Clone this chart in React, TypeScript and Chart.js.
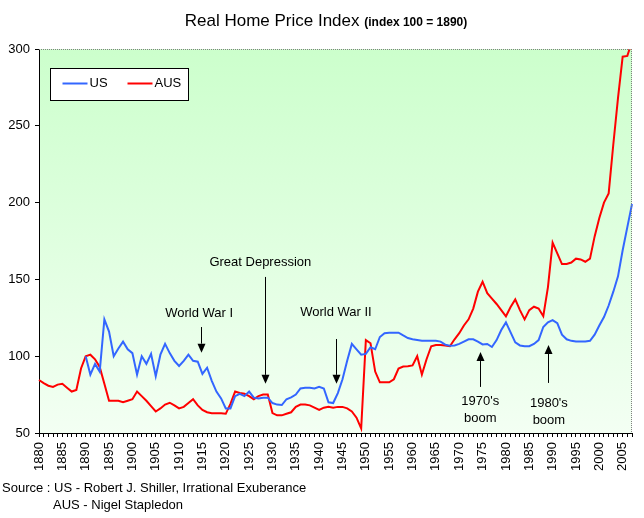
import React, { useEffect, useRef } from "react";
import { Chart, registerables } from "chart.js";

Chart.register(...registerables);

const FIRST_YEAR = 1880;
const LAST_YEAR = 2007;
const YEARS: string[] = [];
for (let y = FIRST_YEAR; y <= LAST_YEAR; y++) YEARS.push(String(y));

const Y_MIN = 50;
const Y_MAX = 300;
const Y_STEP = 50;

// US series starts in 1890 (index 100 = 1890)
const US_START = 1890;
const US_VALUES = [
  100, 88, 95, 90, 124, 116, 100, 105, 109.5, 104.5, // 1890-1899
  102, 88, 100, 95, 101.5, 87, 101, 108, 102, 97, // 1900-1909
  93.6, 97, 101, 97, 96.4, 88.5, 92.5, 84, 77, 72.5, // 1910-1919
  66, 66, 74, 75.5, 74, 77, 73, 72.5, 73, 73, // 1920-1929
  69.5, 68.5, 68.2, 72, 73.2, 75, 79, 79.5, 79.5, 79, // 1930-1939
  80, 79, 70, 69.5, 76, 85, 97, 108, 104.5, 101, // 1940-1949
  101.5, 105.8, 104.5, 112.5, 115, 115.3, 115.3, 115.3, 113.5, 111.8, // 1950-1959
  111, 110.5, 110, 110, 110, 110, 109.5, 107.5, 106.8, 107, // 1960-1969
  108, 109.5, 111, 111, 109.5, 107.7, 108, 106, 110.5, 117, // 1970-1979
  122, 115.5, 109, 107, 106.5, 106.5, 108, 110.5, 119, 122, // 1980-1989
  123.5, 121.5, 114, 111, 110, 109.5, 109.5, 109.5, 110, 114, // 1990-1999
  120, 125.5, 133, 142, 152, 169, 184, 199, // 2000-2007
];

const AUS_VALUES = [
  84.5, 82.5, 80.8, 80, 81.5, 82, 79.5, 77, 78, 92, // 1880-1889
  100, 101, 98, 93, 82, 71, 71, 71, 70, 71, // 1890-1899
  72, 77, 74, 71, 67.5, 64, 66, 68.5, 69.7, 68, // 1900-1909
  66, 67, 69.5, 72, 68, 65, 63.5, 62.8, 62.8, 62.8, // 1910-1919
  62.5, 69, 77, 76, 75.5, 74, 72, 74, 75, 75, // 1920-1929
  63, 61.5, 61.5, 62.5, 63.5, 67, 68.5, 68.5, 68, 66.5, // 1930-1939
  65, 66.5, 67, 66.5, 67, 67, 66, 64, 60, 53, // 1940-1949
  110.5, 108.4, 90, 83, 83, 83, 85, 92, 93.3, 93.5, // 1950-1959
  94, 100, 88, 98, 106.5, 107.3, 107.3, 107, 106.5, 111, // 1960-1969
  115, 120, 124, 131, 142, 148.5, 141, 137.5, 134, 130, // 1970-1979
  126, 132, 137, 130, 124, 130, 132.2, 131, 126, 145, // 1980-1989
  174, 167, 160, 160, 161, 163.5, 163, 161.5, 163.5, 178, // 1990-1999
  190, 200, 206, 238, 268, 295, 295.5, 305, // 2000-2007
];

const US_DATA: (number | null)[] = [
  ...new Array(US_START - FIRST_YEAR).fill(null),
  ...US_VALUES,
];

const SERIES_NAMES = ["US", "AUS"];
const SERIES_COLORS = ["#3366FF", "#FF0000"];

const TITLE_MAIN = "Real Home Price Index";
const TITLE_SUB = "(index 100 = 1890)";
const SOURCE_LINES = [
  "Source : US - Robert J. Shiller, Irrational Exuberance",
  "AUS - Nigel Stapledon",
];

// annotation: text lines placed at (year, value); arrow from value -> to value at arrowYear
const ANNOTATIONS = [
  { lines: ["World War I"], textYear: 1914.3, textValues: [128.1], arrowYear: 1914.7, from: 119, to: 102.3 },
  { lines: ["Great Depression"], textYear: 1927.4, textValues: [161.3], arrowYear: 1928.4, from: 151.6, to: 82 },
  { lines: ["World War II"], textYear: 1943.6, textValues: [128.8], arrowYear: 1943.5, from: 111.2, to: 82 },
  { lines: ["1970's", "boom"], textYear: 1974.5, textValues: [70.8, 59.8], arrowYear: 1974.5, from: 80, to: 102.7 },
  { lines: ["1980's", "boom"], textYear: 1989.2, textValues: [69.5, 58.5], arrowYear: 1989.1, from: 82.6, to: 107.3 },
];

const FONT = "'Liberation Sans', Arial, sans-serif";

const overlayPlugin = {
  id: "overlay",
  beforeDraw(chart: any) {
    const { ctx, chartArea: a } = chart;
    ctx.save();
    const g = ctx.createLinearGradient(0, a.top, 0, a.bottom);
    g.addColorStop(0, "#CCFFCC");
    g.addColorStop(1, "#F3FFF3");
    ctx.fillStyle = g;
    ctx.fillRect(a.left, a.top, a.right - a.left, a.bottom - a.top);
    ctx.restore();
  },
  afterDraw(chart: any) {
    const { ctx, chartArea: a, scales } = chart;
    const xs = scales.x;
    const ys = scales.y;
    const px = (year: number) => xs.getPixelForValue(year - FIRST_YEAR);
    ctx.save();

    // dotted top / right border
    ctx.strokeStyle = "#808080";
    ctx.lineWidth = 1;
    ctx.setLineDash([1, 1]);
    ctx.beginPath();
    ctx.moveTo(a.left, Math.round(a.top) + 0.5);
    ctx.lineTo(a.right, Math.round(a.top) + 0.5);
    ctx.moveTo(Math.round(a.right) - 0.5, a.top);
    ctx.lineTo(Math.round(a.right) - 0.5, a.bottom);
    ctx.stroke();
    ctx.setLineDash([]);

    // annotations
    ctx.fillStyle = "#000";
    ctx.strokeStyle = "#000";
    ctx.font = `13px ${FONT}`;
    ctx.textAlign = "center";
    ctx.textBaseline = "middle";
    for (const an of ANNOTATIONS) {
      an.lines.forEach((line, i) => {
        ctx.fillText(line, px(an.textYear), ys.getPixelForValue(an.textValues[i]));
      });
      const x = Math.round(px(an.arrowYear)) + 0.5;
      const y1 = ys.getPixelForValue(an.from);
      const y2 = ys.getPixelForValue(an.to);
      const dir = y2 > y1 ? 1 : -1;
      const head = 9;
      ctx.lineWidth = 1;
      ctx.beginPath();
      ctx.moveTo(x, y1);
      ctx.lineTo(x, y2 - dir * head);
      ctx.stroke();
      ctx.beginPath();
      ctx.moveTo(x, y2);
      ctx.lineTo(x - 4, y2 - dir * head);
      ctx.lineTo(x + 4, y2 - dir * head);
      ctx.closePath();
      ctx.fill();
    }

    // legend
    const lx = Math.round(a.left) + 11.5;
    const ly = Math.round(a.top) + 19.5;
    ctx.fillStyle = "#FFFFFF";
    ctx.fillRect(lx, ly, 138, 32);
    ctx.strokeStyle = "#000";
    ctx.lineWidth = 1;
    ctx.strokeRect(lx, ly, 138, 32);
    const cy = ly + 15;
    const entries = [
      { x: lx + 12 },
      { x: lx + 77 },
    ];
    ctx.textAlign = "left";
    ctx.textBaseline = "middle";
    ctx.font = `13px ${FONT}`;
    entries.forEach((e, i) => {
      ctx.strokeStyle = SERIES_COLORS[i];
      ctx.lineWidth = 2;
      ctx.beginPath();
      ctx.moveTo(e.x, cy);
      ctx.lineTo(e.x + 25, cy);
      ctx.stroke();
      ctx.fillStyle = "#000";
      ctx.fillText(SERIES_NAMES[i], e.x + 27, cy);
    });

    // title
    ctx.textBaseline = "alphabetic";
    ctx.textAlign = "left";
    ctx.font = `17px ${FONT}`;
    const w1 = ctx.measureText(TITLE_MAIN + " ").width;
    ctx.font = `bold 12px ${FONT}`;
    const w2 = ctx.measureText(TITLE_SUB).width;
    const tx = 326 - (w1 + w2) / 2;
    ctx.font = `17px ${FONT}`;
    ctx.fillText(TITLE_MAIN + " ", tx, 26);
    ctx.font = `bold 12px ${FONT}`;
    ctx.fillText(TITLE_SUB, tx + w1, 26);

    // source
    ctx.font = `13px ${FONT}`;
    ctx.textBaseline = "middle";
    ctx.fillText(SOURCE_LINES[0], 2, 488);
    ctx.fillText(SOURCE_LINES[1], 53, 505);

    ctx.restore();
  },
};

export default function App() {
  const canvasRef = useRef<HTMLCanvasElement | null>(null);

  useEffect(() => {
    document.body.style.margin = "0";
    const canvas = canvasRef.current;
    if (!canvas) return;
    const chart = new Chart(canvas, {
      type: "line",
      data: {
        labels: YEARS,
        datasets: [
          {
            label: SERIES_NAMES[0],
            data: US_DATA,
            borderColor: SERIES_COLORS[0],
            backgroundColor: SERIES_COLORS[0],
            borderWidth: 2,
            pointRadius: 0,
            tension: 0,
            spanGaps: false,
          },
          {
            label: SERIES_NAMES[1],
            data: AUS_VALUES,
            borderColor: SERIES_COLORS[1],
            backgroundColor: SERIES_COLORS[1],
            borderWidth: 2,
            pointRadius: 0,
            tension: 0,
          },
        ],
      },
      options: {
        responsive: false,
        animation: false,
        devicePixelRatio: 1,
        layout: { padding: { top: 49, right: 12, left: 0, bottom: 0 } },
        plugins: {
          legend: { display: false },
          title: { display: false },
          tooltip: { enabled: false },
        },
        scales: {
          x: {
            type: "category",
            offset: false,
            grid: {
              drawOnChartArea: false,
              drawTicks: true,
              tickLength: 4,
              color: "#000",
            },
            border: { display: true, color: "#000", width: 1 },
            ticks: {
              autoSkip: false,
              minRotation: 90,
              maxRotation: 90,
              padding: 5,
              color: "#000",
              font: { size: 13, family: FONT },
              callback: (_v: any, idx: number) =>
                Number(YEARS[idx]) % 5 === 0 ? YEARS[idx] : "",
            },
            afterFit: (scale: any) => {
              scale.height = 85;
              scale.paddingLeft = 0;
              scale.paddingRight = 0;
            },
          },
          y: {
            min: Y_MIN,
            max: Y_MAX,
            grid: {
              drawOnChartArea: false,
              drawTicks: true,
              tickLength: 4,
              color: "#000",
            },
            border: { display: true, color: "#000", width: 1 },
            ticks: {
              stepSize: Y_STEP,
              padding: 5,
              color: "#000",
              font: { size: 13, family: FONT },
            },
            afterFit: (scale: any) => {
              scale.width = 39;
              scale.paddingTop = 0;
              scale.paddingBottom = 0;
            },
          },
        },
      },
      plugins: [overlayPlugin],
    });
    return () => chart.destroy();
  }, []);

  return (
    <div style={{ position: "absolute", left: 0, top: 0, width: 644, height: 518, background: "#fff" }}>
      <canvas ref={canvasRef} width={644} height={518} style={{ display: "block" }} />
    </div>
  );
}
